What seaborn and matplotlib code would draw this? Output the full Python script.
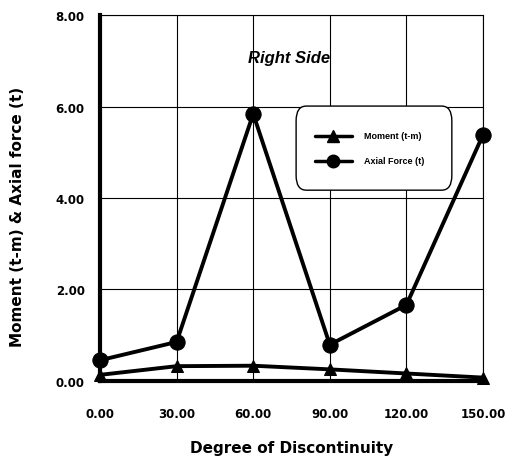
import matplotlib
matplotlib.use("Agg")
import matplotlib.pyplot as plt
import seaborn as sns
import pandas as pd
from matplotlib.ticker import FormatStrFormatter
from matplotlib.patches import FancyBboxPatch

degrees = [0, 30, 60, 90, 120, 150]
moment = [0.13, 0.32, 0.33, 0.25, 0.16, 0.07]
axial = [0.45, 0.85, 5.84, 0.79, 1.66, 5.38]
x_ticks = [0, 30, 60, 90, 120, 150]
y_ticks = [0, 2, 4, 6, 8]

sns.set_theme(style="white")
plt.rcParams['font.family'] = ['Liberation Sans', 'DejaVu Sans']
plt.rcParams['text.color'] = 'black'
plt.rcParams['axes.labelcolor'] = 'black'
plt.rcParams['xtick.color'] = 'black'
plt.rcParams['ytick.color'] = 'black'

df = pd.DataFrame({
    "deg": degrees * 2,
    "val": moment + axial,
    "series": ["Moment (t-m)"] * 6 + ["Axial Force (t)"] * 6,
})

fig = plt.figure(figsize=(5.13, 4.6), dpi=100)
ax = fig.add_axes([0.195, 0.17, 0.7465, 0.795])

sns.lineplot(data=df, x="deg", y="val", hue="series", style="series",
             markers={"Moment (t-m)": "^", "Axial Force (t)": "o"},
             dashes=False, palette={"Moment (t-m)": "black", "Axial Force (t)": "black"},
             linewidth=2.8, markersize=11, markeredgecolor="black", ax=ax, zorder=5,
             legend=False)
for line in ax.lines:
    line.set_clip_on(False)
    if line.get_marker() == "^":
        line.set_markersize(8)

ax.set_xlim(0, 150)
ax.set_ylim(0, 8)
ax.set_xticks(x_ticks)
ax.set_yticks(y_ticks)
ax.xaxis.set_major_formatter(FormatStrFormatter('%.2f'))
ax.yaxis.set_major_formatter(FormatStrFormatter('%.2f'))
ax.grid(True, color="black", linewidth=0.8)
ax.set_axisbelow(True)

for s in ["top", "right"]:
    ax.spines[s].set_visible(True)
    ax.spines[s].set_linewidth(0.8)
    ax.spines[s].set_color("black")
ax.spines["left"].set_linewidth(3)
ax.spines["bottom"].set_linewidth(3)
ax.spines["left"].set_color("black")
ax.spines["bottom"].set_color("black")

ax.tick_params(axis="both", which="major", length=5, width=2.5, color="black",
               labelcolor="black", direction="out", labelsize=8.5, pad=14)
ax.tick_params(axis="y", pad=6)
for lab in ax.get_xticklabels() + ax.get_yticklabels():
    lab.set_fontweight("bold")
    lab.set_family("DejaVu Sans")

ax.set_xlabel("Degree of Discontinuity", fontsize=11, fontweight="bold",
              labelpad=14, family="DejaVu Sans", color="black")
ax.set_ylabel("Moment (t-m) & Axial force (t)", fontsize=11, fontweight="bold",
              family="DejaVu Sans", color="black")
ax.yaxis.set_label_coords(-0.195, 0.45)

ax.text(74, 7.08, "Right Side", fontsize=12, fontweight="bold", fontstyle="italic",
        ha="center", va="center", color="black")

# legend box
box = FancyBboxPatch((76.8, 4.17), 61, 1.84, boxstyle="round,pad=0,rounding_size=4",
                     mutation_aspect=0.08, facecolor="white", edgecolor="black",
                     linewidth=1.0, zorder=7)
ax.add_patch(box)
ax.plot([84.2, 98.7], [5.36, 5.36], color="black", lw=2.5, zorder=8)
ax.plot([91.3], [5.36], marker="^", color="black", ms=8, zorder=8)
ax.plot([84.2, 98.7], [4.81, 4.81], color="black", lw=2.5, zorder=8)
ax.plot([91.3], [4.81], marker="o", color="black", ms=9, zorder=8)
ax.text(103.5, 5.36, "Moment (t-m)", fontsize=6.5, fontweight="bold", va="center",
        zorder=8, color="black")
ax.text(103.5, 4.81, "Axial Force (t)", fontsize=6.5, fontweight="bold", va="center",
        zorder=8, color="black")

fig.savefig("out.png", dpi=100)
